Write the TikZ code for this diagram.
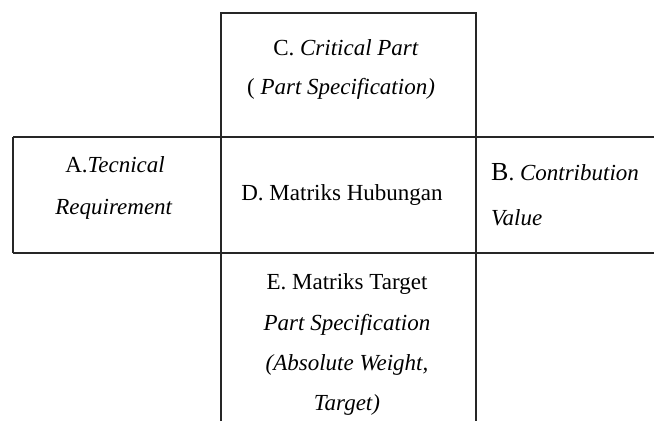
\documentclass[tikz,border=0pt]{standalone}
\usepackage{fontspec}
\setmainfont{Liberation Serif}
\begin{document}
\begin{tikzpicture}[x=1pt,y=-1pt,
  grid/.style={draw=black!85,line width=1.3pt},
  txt/.style={font=\fontsize{23}{27}\selectfont,inner sep=0pt,anchor=base},
  txtl/.style={txt,anchor=base west}]
\useasboundingbox (0,0) rectangle (654,421);
% grid lines
\draw[grid] (221,421) -- (221,13) -- (476,13) -- (476,421);
\draw[grid] (13,137) -- (654,137);
\draw[grid] (13,253) -- (654,253);
\draw[grid] (13,137) -- (13,253);
% C
\node[txt] (c1) at (346,55) {C. \textit{Critical Part}};
\node[txt] (c2) at (341,94) {( \textit{Part Specification)}};
% A
\node[txt] (a1) at (115,172) {A.\textit{Tecnical}};
\node[txt] (a2) at (114,214) {\textit{Requirement}};
% D
\node[txt] (d) at (342,200) {D. Matriks Hubungan};
% B
\node[txtl] (b1) at (491,180) {{\fontsize{26}{30}\selectfont B}. \textit{Contribution}};
\node[txtl] (b2) at (491,225) {\textit{Value}};
% E
\node[txt] (e1) at (347,289) {E. Matriks Target};
\node[txt] (e2) at (347,330) {\textit{Part Specification}};
\node[txt] (e3) at (347,370) {\textit{(Absolute Weight,}};
\node[txt] (e4) at (347,410) {\textit{Target)}};
\end{tikzpicture}
\end{document}
